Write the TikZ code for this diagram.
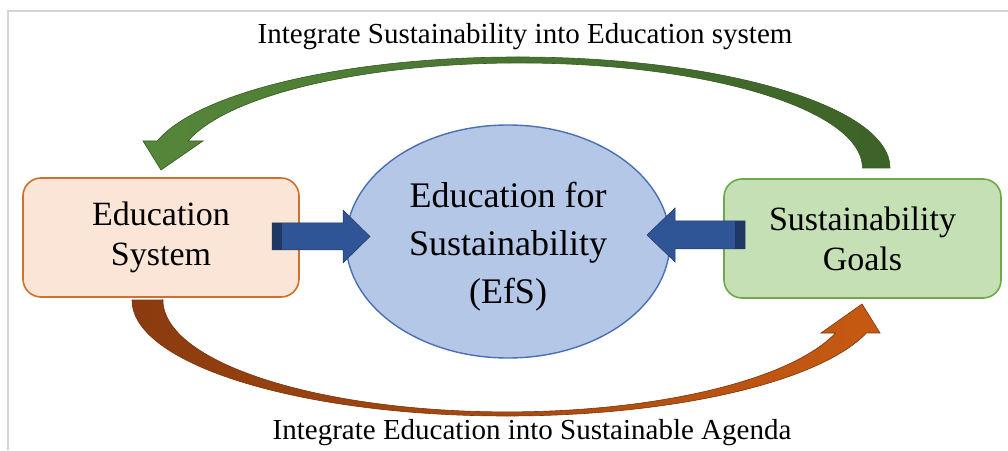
\documentclass[tikz,border=0pt]{standalone}
\usepackage{fontspec}
\setmainfont{Liberation Serif}
\usetikzlibrary{shapes.geometric}
\definecolor{framegray}{HTML}{D4D4D4}
\definecolor{edufill}{HTML}{FBE5D6}
\definecolor{eduline}{HTML}{D0702C}
\definecolor{goalfill}{HTML}{C5E0B4}
\definecolor{goalline}{HTML}{6FA84A}
\definecolor{efsfill}{HTML}{B4C7E7}
\definecolor{efsline}{HTML}{4A6FB5}
\definecolor{bluearrow}{HTML}{2F5597}
\definecolor{bluedark}{HTML}{203864}
\definecolor{greenL}{HTML}{55873A}
\definecolor{greenD}{HTML}{3D6228}
\definecolor{greenO}{HTML}{385A25}
\definecolor{orangeL}{HTML}{8A3B0F}
\definecolor{orangeR}{HTML}{C75A12}
\definecolor{orangeO}{HTML}{7A340C}
\tikzset{
  sidebox/.style={rectangle, rounded corners=18pt, line width=1.6pt, inner sep=0pt,
    align=center, font=\fontsize{34}{40}\selectfont},
  centreellipse/.style={ellipse, draw=efsline, fill=efsfill, line width=1.4pt, inner sep=0pt},
  centretext/.style={inner sep=0pt, align=center, font=\fontsize{36}{48}\selectfont},
  labeltext/.style={anchor=base, inner sep=0pt, font=\fontsize{29}{35}\selectfont},
  blockarrow/.style={fill=bluearrow, draw=bluedark, line width=0.5pt},
}
\begin{document}
\begin{tikzpicture}[x=1pt,y=1pt]
\useasboundingbox (0,0) rectangle (1008,450);
\fill[white] (0,0) rectangle (1008,450);
\draw[framegray, line width=1.5pt] (8,0) -- (8,439) -- (1008,439);

% curved green arrow (top)
\path[draw=greenO, line width=0.6pt, left color=greenL, right color=greenD]
  (890,282) arc[start angle=0, end angle=165.9, x radius=372, y radius=111]
  -- (143,309) -- (161,280) -- (203,309) -- (188,309)
  arc[start angle=165.1, end angle=0, x radius=343, y radius=105] -- cycle;

% curved orange arrow (bottom)
\path[draw=orangeO, line width=0.6pt, left color=orangeL, right color=orangeR]
  (163,150) -- (132,150)
  arc[start angle=180, end angle=343.5, x radius=375, y radius=116]
  -- (880,117) -- (862,146) -- (821,117) -- (835.5,117)
  arc[start angle=-17.2, end angle=-180, x radius=344, y radius=112] -- cycle;

\node[sidebox, draw=eduline, fill=edufill, minimum width=276pt, minimum height=119pt]
  (edu) at (161,212.5) {Education\\System};
\node[sidebox, draw=goalline, fill=goalfill, minimum width=277pt, minimum height=119pt]
  (goals) at (862.5,211.5) {Sustainability\\Goals};
\node[centreellipse, minimum width=324pt, minimum height=233pt] (efs) at (508,208.5) {};
\node[centretext] (efslabel) at ([yshift=-5pt]efs.center) {Education for\\Sustainability\\(EfS)};

% straight block arrows
\path[blockarrow] (272,227) -- (343,227) -- (343,240) -- (370,213.5) -- (343,187) -- (343,200) -- (272,200) -- cycle;
\fill[bluedark] (272.3,200.3) rectangle (282,226.7);
\path[blockarrow] (745,229) -- (675,229) -- (675,242) -- (647,215) -- (675,188) -- (675,201) -- (745,201) -- cycle;
\fill[bluedark] (735,201.3) rectangle (744.7,228.7);

\node[labeltext] (toplabel) at (525,406) {Integrate Sustainability into Education system};
\node[labeltext] (bottomlabel) at (532,11) {Integrate Education into Sustainable Agenda};
\end{tikzpicture}
\end{document}
